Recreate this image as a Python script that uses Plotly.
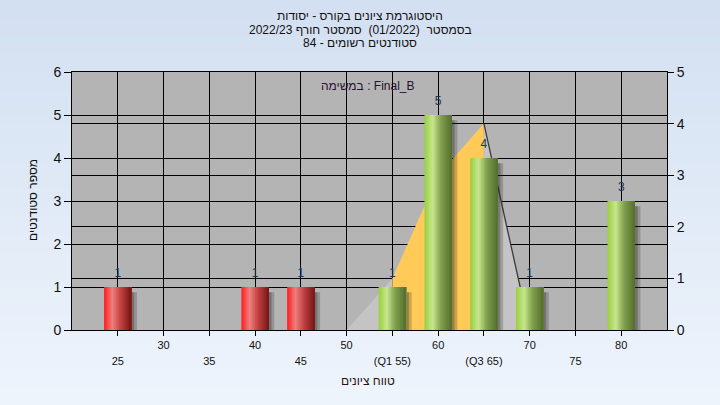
import plotly.graph_objects as go

# ---------------- data ----------------
scores = [25, 40, 45, 55, 60, 65, 70, 80]
counts = [1, 1, 1, 1, 5, 4, 1, 3]
pass_mark = 50

major_ticks = [30, 40, 50, 60, 70, 80]
major_tick_labels = ["30", "40", "50", "60", "70", "80"]
minor_ticks = [25, 35, 45, 55, 65, 75]
minor_tick_labels = ["25", "35", "45", "(Q1 55)", "(Q3 65)", "75"]
left_ticks = [0, 1, 2, 3, 4, 5, 6]
right_ticks = [0, 1, 2, 3, 4, 5]

curve_x = [50, 55, 60, 65, 70]
curve_y = [0, 1, 3, 4, 0]
q1, q3 = 55, 65

title_lines = [
    "היסטוגרמת ציונים בקורס - יסודות",
    "בסמסטר  (01/2022)  סמסטר חורף 2022/23",
    "סטודנטים רשומים - 84",
]
task_label = "במשימה : Final_B"
x_title = "טווח ציונים"
y_title = "מספר סטודנטים"

# ---------------- layout geometry ----------------
W, H = 720, 405
ML, MR, MT, MB = 72, 53, 72, 75
PW, PH = W - ML - MR, H - MT - MB
FONT = "Liberation Sans, Arial, DejaVu Sans, sans-serif"
BAR_W = 3.0


def px2paper(px, py):
    return (px - ML) / PW, (H - MB - py) / PH


def lerp_stops(stops, t):
    for (t0, c0), (t1, c1) in zip(stops, stops[1:]):
        if t0 <= t <= t1:
            f = (t - t0) / (t1 - t0) if t1 > t0 else 0
            c = [round(a + (b - a) * f) for a, b in zip(c0, c1)]
            return "rgb(%d,%d,%d)" % tuple(c)
    return "rgb(%d,%d,%d)" % tuple(stops[-1][1])


red_stops = [(0, (255, 28, 28)), (0.3, (238, 128, 128)), (0.6, (196, 66, 66)), (1, (118, 22, 22))]
green_stops = [(0, (152, 206, 62)), (0.3, (200, 230, 142)), (0.6, (128, 160, 78)), (1, (84, 110, 44))]

fig = go.Figure()

# ---- distribution area (right axis) ----
def seg(cond):
    idx = [i for i, x in enumerate(curve_x) if cond(x)]
    return [curve_x[i] for i in idx], [curve_y[i] for i in idx]

lx, ly = seg(lambda x: x <= q1)
mx, my = seg(lambda x: q1 <= x <= q3)
rx, ry = seg(lambda x: x >= q3)
fig.add_trace(go.Scatter(x=lx, y=ly, fill="tozeroy", mode="lines", line=dict(width=0),
                         fillcolor="rgb(196,196,196)", xaxis="x", yaxis="y", hoverinfo="skip"))
fig.add_trace(go.Scatter(x=mx, y=my, fill="tozeroy", mode="lines", line=dict(width=0),
                         fillcolor="rgb(255,202,88)", xaxis="x", yaxis="y", hoverinfo="skip"))
fig.add_trace(go.Scatter(x=rx, y=ry, fill="tozeroy", mode="lines", line=dict(width=1.3, color="#3a3a3a"),
                         fillcolor="rgb(196,196,196)", xaxis="x", yaxis="y", hoverinfo="skip"))

# ---- bar shadows ----
for shift, alpha in [(0.3, 0.28), (0.6, 0.22)]:
    fig.add_trace(go.Bar(x=scores, y=[c - 0.12 for c in counts], width=BAR_W,
                         offset=-BAR_W / 2 + shift,
                         marker=dict(color="rgba(30,30,30,%.2f)" % alpha, line=dict(width=0)),
                         xaxis="x", yaxis="y2", hoverinfo="skip"))

# ---- cylindrical bars as stacked gradient stripes ----
N = 18
for i in range(N):
    t = (i + 0.5) / N
    cols = [lerp_stops(red_stops if s < pass_mark else green_stops, t) for s in scores]
    fig.add_trace(go.Bar(x=scores, y=counts, width=BAR_W - i * BAR_W / N,
                         offset=-BAR_W / 2 + i * BAR_W / N,
                         marker=dict(color=cols, line=dict(width=0)),
                         xaxis="x", yaxis="y2", hoverinfo="skip"))

# ---- value labels (on the secondary x axis so it is drawn) ----
fig.add_trace(go.Scatter(x=scores, y=counts, mode="markers+text", text=[str(c) for c in counts],
                         textposition="top center",
                         marker=dict(size=10, color="rgba(0,0,0,0)"),
                         textfont=dict(size=12, color="#1d3557", family=FONT),
                         xaxis="x2", yaxis="y2", hoverinfo="skip"))

# ---------------- annotations ----------------
ann = []
for line, py in zip(title_lines, [16, 30, 43]):
    xp, yp = px2paper(360, py)
    ann.append(dict(x=xp, y=yp, xref="paper", yref="paper", text=line, showarrow=False,
                    xanchor="center", yanchor="middle", font=dict(size=12, color="#111", family=FONT)))

xp, yp = px2paper(368, 86)
ann.append(dict(x=xp, y=yp, xref="paper", yref="paper", text=task_label, showarrow=False,
                xanchor="center", yanchor="middle", font=dict(size=12, color="#2a1030", family=FONT)))
xp, yp = px2paper(368, 381)
ann.append(dict(x=xp, y=yp, xref="paper", yref="paper", text=x_title, showarrow=False,
                xanchor="center", yanchor="middle", font=dict(size=12, color="#2a1010", family=FONT)))
xp, yp = px2paper(33, 200)
ann.append(dict(x=xp, y=yp, xref="paper", yref="paper", text=y_title, showarrow=False, textangle=-90,
                xanchor="center", yanchor="middle", font=dict(size=12, color="#111", family=FONT)))

# ---------------- background shapes ----------------
shapes = []
NB = 45
top_c, bot_c = (211, 224, 241), (238, 244, 252)
for k in range(NB):
    py0, py1 = H * k / NB, H * (k + 1) / NB + 1
    t = k / (NB - 1)
    c = tuple(round(a + (b - a) * t) for a, b in zip(top_c, bot_c))
    _, y0 = px2paper(0, py1)
    _, y1 = px2paper(0, py0)
    shapes.append(dict(type="rect", xref="paper", yref="paper", x0=-0.3, x1=1.3, y0=y0, y1=y1,
                       fillcolor="rgb(%d,%d,%d)" % c, line=dict(width=0), layer="below"))
shapes.append(dict(type="rect", xref="paper", yref="paper", x0=0, x1=1, y0=0, y1=1,
                   fillcolor="rgb(180,180,180)", line=dict(width=0), layer="below"))

axis_common = dict(showgrid=True, gridcolor="black", gridwidth=1, zeroline=False,
                   linecolor="black", linewidth=1, ticks="outside", tickcolor="black")
xfont = dict(family=FONT, size=11, color="#111")
yfont = dict(family=FONT, size=14, color="#111")

fig.update_layout(
    width=W, height=H,
    margin=dict(l=ML, r=MR, t=MT, b=MB),
    paper_bgcolor="rgb(224,234,247)",
    plot_bgcolor="rgba(0,0,0,0)",
    barmode="overlay",
    showlegend=False,
    hovermode=False,
    annotations=ann,
    shapes=shapes,
    xaxis=dict(range=[20, 85], tickvals=major_ticks, ticktext=major_tick_labels,
               showline=True, mirror=True, ticklen=5, anchor="y", tickfont=xfont, **axis_common),
    xaxis2=dict(range=[20, 85], overlaying="x", side="bottom", anchor="y2",
                tickvals=minor_ticks, ticktext=minor_tick_labels, ticklen=5,
                ticklabelstandoff=16, showline=False, tickfont=xfont, **axis_common),
    yaxis=dict(range=[0, 5], side="right", tickvals=right_ticks, ticklen=6,
               showline=True, anchor="x", tickfont=yfont, **axis_common),
    yaxis2=dict(range=[0, 6], side="left", overlaying="y", tickvals=left_ticks, ticklen=7,
                showline=True, anchor="x", tickfont=yfont, **axis_common),
)

fig.write_html("out.html", config={"displayModeBar": False},
               post_script="document.body.style.margin='0';document.body.style.overflow='hidden';")
